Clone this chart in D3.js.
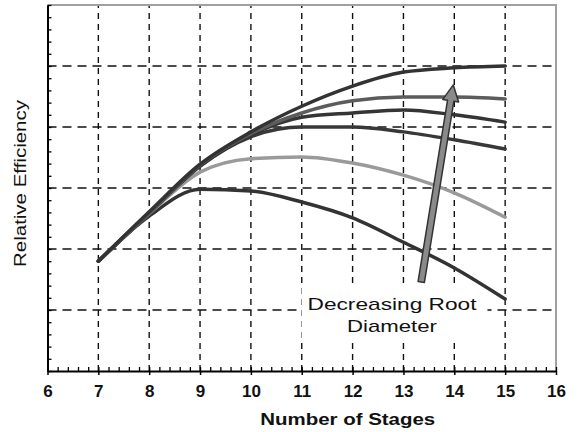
<!DOCTYPE html>
<html>
<head>
<meta charset="utf-8">
<script src="https://cdn.jsdelivr.net/npm/d3@7"></script>
<style>
  body { margin: 0; background: #fff; }
  svg { display: block; font-family: "Liberation Sans", Arial, sans-serif; }
</style>
</head>
<body>
<div id="chart"></div>
<script>
// valores (eixo y sem rótulos, 0..6 unidades de grade)
const stages = [7, 8, 9, 10, 11, 12, 13, 14, 15];
const xTicks = [6, 7, 8, 9, 10, 11, 12, 13, 14, 15, 16];
const effA = [1.80, 2.54, 2.98, 2.95, 2.77, 2.51, 2.11, 1.69, 1.18];
const effB = [1.80, 2.58, 3.26, 3.48, 3.51, 3.41, 3.21, 2.92, 2.52];
const effC = [1.80, 2.59, 3.36, 3.84, 4.00, 4.00, 3.92, 3.79, 3.64];
const effD = [1.80, 2.59, 3.36, 3.87, 4.16, 4.23, 4.28, 4.20, 4.08];
const effE = [1.80, 2.59, 3.38, 3.89, 4.23, 4.43, 4.49, 4.49, 4.46];
const effF = [1.80, 2.61, 3.39, 3.92, 4.34, 4.67, 4.90, 4.97, 5.00];
const curves = [effA, effB, effC, effD, effE, effF];
const curveColors = ["#333", "#9a9a9a", "#383838", "#353535", "#5c5c5c", "#333"];
const arrowFrom = [13.35, 1.46];
const arrowTo = [13.98, 4.69];
const noteLines = ["Decreasing Root", "Diameter"];

const width = 578, height = 432;
const margin = { left: 47.5, right: 22, top: 5, bottom: 61 };

const svg = d3.select("#chart").append("svg")
    .attr("width", width)
    .attr("height", height);

svg.append("rect").attr("width", width).attr("height", height).attr("fill", "#fff");

const x = d3.scaleLinear().domain([6, 16]).range([margin.left, width - margin.right]);
const y = d3.scaleLinear().domain([0, 6]).range([height - margin.bottom, margin.top]);

// grade tracejada
svg.append("g")
    .selectAll("line")
    .data(d3.range(7, 16))
    .join("line")
    .attr("x1", d => x(d)).attr("x2", d => x(d))
    .attr("y1", y(0)).attr("y2", y(6))
    .attr("stroke", "#111").attr("stroke-width", 1.4)
    .attr("stroke-dasharray", "6,5");

svg.append("g")
    .selectAll("line")
    .data(d3.range(1, 6))
    .join("line")
    .attr("x1", x(6)).attr("x2", x(16))
    .attr("y1", d => y(d)).attr("y2", d => y(d))
    .attr("stroke", "#111").attr("stroke-width", 1.4)
    .attr("stroke-dasharray", "9,6");

// moldura cinza em cima e à direita
svg.append("path")
    .attr("d", `M${x(6)},${y(6)}H${x(16)}V${y(0)}`)
    .attr("fill", "none").attr("stroke", "#a0a0a0").attr("stroke-width", 2);

// caixa branca atrás da anotação
svg.append("rect")
    .attr("x", x(13.0) - 102).attr("y", y(1.39))
    .attr("width", 186).attr("height", 52)
    .attr("fill", "#fff");

// eixos
const minorX = d3.range(6, 16.001, 0.2);
const minorY = d3.range(0, 6.001, 0.2);

const xAxis = svg.append("g").attr("transform", `translate(0,${y(0)})`);
xAxis.call(d3.axisBottom(x).tickValues(minorX).tickSize(-4).tickSizeOuter(0).tickFormat(""));
xAxis.call(g => g.selectAll(".tick line").attr("stroke-width", 1.3));
const xMajor = svg.append("g").attr("transform", `translate(0,${y(0)})`)
    .call(d3.axisBottom(x).tickValues(xTicks).tickSize(4).tickSizeOuter(0).tickPadding(10).tickFormat(d3.format("d")));
xMajor.select(".domain").remove();
xMajor.selectAll(".tick line").attr("stroke-width", 1.5);
xMajor.selectAll("text")
    .attr("font-size", 17).attr("font-weight", "bold").attr("fill", "#111")
    .attr("font-family", "Liberation Sans, Arial, sans-serif");
xAxis.select(".domain").attr("stroke-width", 2);

const yAxis = svg.append("g").attr("transform", `translate(${x(6)},0)`)
    .call(d3.axisLeft(y).tickValues(minorY).tickSize(-4).tickSizeOuter(0).tickFormat(""));
yAxis.select(".domain").attr("stroke-width", 2);
yAxis.selectAll(".tick line").attr("stroke-width", 1.3);

// rótulos dos eixos
svg.append("text")
    .attr("x", (x(6) + x(16)) / 2 + 46)
    .attr("y", 425)
    .attr("text-anchor", "middle")
    .attr("font-size", 17).attr("font-weight", "bold").attr("fill", "#111")
    .attr("textLength", 175).attr("lengthAdjust", "spacingAndGlyphs")
    .text("Number of Stages");

svg.append("text")
    .attr("transform", `translate(26,${(100 + 267) / 2}) rotate(-90)`)
    .attr("text-anchor", "middle")
    .attr("font-size", 16).attr("fill", "#111")
    .attr("textLength", 167).attr("lengthAdjust", "spacingAndGlyphs")
    .text("Relative Efficiency");

// curvas
const line = d3.line()
    .x((d, i) => x(stages[i]))
    .y(d => y(d))
    .curve(d3.curveMonotoneX);

svg.append("g")
    .selectAll("path")
    .data(curves)
    .join("path")
    .attr("d", line)
    .attr("fill", "none")
    .attr("stroke", (d, i) => curveColors[i])
    .attr("stroke-width", 3.5)
    .attr("stroke-linejoin", "round")
    .attr("stroke-linecap", "round");

// seta
const ax0 = x(arrowFrom[0]), ay0 = y(arrowFrom[1]);
const ax1 = x(arrowTo[0]), ay1 = y(arrowTo[1]);
const ang = Math.atan2(ay1 - ay0, ax1 - ax0);
const headLen = 16, headW = 8, shaftW = 3.2;
const ux = Math.cos(ang), uy = Math.sin(ang);
const px = -uy, py = ux;
const bx = ax1 - ux * headLen, by = ay1 - uy * headLen;
const arrowPts = [
    [ax0 + px * shaftW, ay0 + py * shaftW],
    [bx + px * shaftW, by + py * shaftW],
    [bx + px * headW, by + py * headW],
    [ax1, ay1],
    [bx - px * headW, by - py * headW],
    [bx - px * shaftW, by - py * shaftW],
    [ax0 - px * shaftW, ay0 - py * shaftW]
];
svg.append("path")
    .attr("d", "M" + arrowPts.map(p => p.join(",")).join("L") + "Z")
    .attr("fill", "#8a8a8a")
    .attr("stroke", "#333")
    .attr("stroke-width", 1.5)
    .attr("stroke-linejoin", "round");

// anotação
svg.append("g")
    .selectAll("text")
    .data(noteLines)
    .join("text")
    .attr("x", 392)
    .attr("y", (d, i) => 310 + i * 22)
    .attr("text-anchor", "middle")
    .attr("font-size", 17).attr("fill", "#111")
    .attr("textLength", (d, i) => i === 0 ? 169 : 90)
    .attr("lengthAdjust", "spacingAndGlyphs")
    .text(d => d);
</script>
</body>
</html>
